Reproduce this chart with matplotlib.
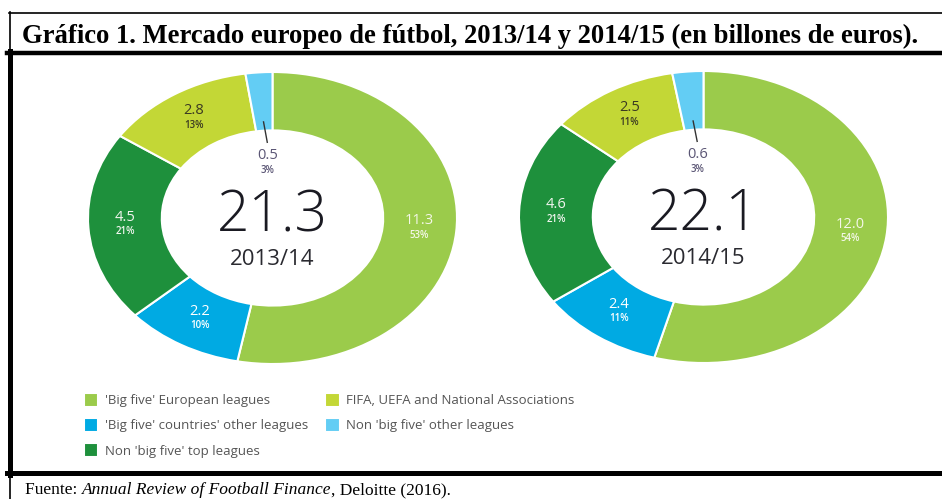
import numpy as np
import matplotlib
matplotlib.use("Agg")
import matplotlib.pyplot as plt
from matplotlib.lines import Line2D

plt.rcParams["font.family"] = ["Open Sans", "DejaVu Sans"]

# data
categories = [
    "'Big five' European leagues",
    "'Big five' countries' other leagues",
    "Non 'big five' top leagues",
    "FIFA, UEFA and National Associations",
    "Non 'big five' other leagues",
]
season_labels = ["2013/14", "2014/15"]
values_1314 = [11.3, 2.2, 4.5, 2.8, 0.5]
values_1415 = [12.0, 2.4, 4.6, 2.5, 0.6]
pct_1314 = ["53%", "10%", "21%", "13%", "3%"]
pct_1415 = ["54%", "11%", "21%", "11%", "3%"]
totals = ["21.3", "22.1"]

colors = ["#9bcb4b", "#00aae3", "#1e903c", "#c3d736", "#63cdf4"]
label_colors = ["#f4f7e8", "#ffffff", "#f0f5ee", "#3b3a22", "#5b5675"]

W, H = 942, 499
fig = plt.figure(figsize=(W / 100, H / 100), dpi=100)


def px_axes(x0, y0, x1, y1):
    # pixel box (top-left origin) -> figure axes
    return fig.add_axes([x0 / W, 1 - y1 / H, (x1 - x0) / W, (y1 - y0) / H])


def donut(ax, vals, pcts, total, season):
    wedges, _ = ax.pie(vals, colors=colors, startangle=90, counterclock=False,
                       radius=1, wedgeprops=dict(width=0.4, edgecolor="white", linewidth=1.5))
    ax.set_aspect("auto")
    ax.set_xlim(-1, 1)
    ax.set_ylim(-1, 1)
    ax.axis("off")
    for i, w in enumerate(wedges):
        ang = np.deg2rad((w.theta1 + w.theta2) / 2)
        if i == len(wedges) - 1:
            # small slice: label inside the hole with leader line
            ax.plot([0.66 * np.cos(ang), 0.52 * np.cos(ang) + 0.01],
                    [0.66 * np.sin(ang), 0.52 * np.sin(ang)], color="#333333", lw=1)
            r = 0.37
        else:
            r = 0.8
        x, y = r * np.cos(ang), r * np.sin(ang)
        ax.annotate(f"{vals[i]:.1f}", (x, y), xytext=(0, 0.5), textcoords="offset points",
                    ha="center", va="bottom", fontsize=10.5, color=label_colors[i])
        ax.annotate(pcts[i], (x, y), xytext=(0, -0.5), textcoords="offset points",
                    ha="center", va="top", fontsize=7, fontweight="semibold",
                    color=label_colors[i])
    ax.text(0, -0.095, total, ha="center", va="baseline", fontsize=41,
            fontweight="light", color="#1a1a22")
    ax.text(0, -0.32, season, ha="center", va="baseline", fontsize=16, color="#2a2a30")
    return wedges


ax1 = px_axes(88, 72, 457, 364)
wedges = donut(ax1, values_1314, pct_1314, totals[0], season_labels[0])
ax2 = px_axes(519, 71, 888, 363)
donut(ax2, values_1415, pct_1415, totals[1], season_labels[1])

fig.legend(wedges, categories, ncol=2, loc="upper left", bbox_to_anchor=(77 / W, 1 - 386 / H),
           frameon=False, borderpad=0, handlelength=1.1, handleheight=1.3, handletextpad=0.5,
           columnspacing=1.3, labelspacing=0.8, fontsize=9.5, labelcolor="#555555")

# frame lines
def hline(y, x0, x1, lw):
    fig.add_artist(Line2D([x0 / W, x1 / W], [1 - y / H, 1 - y / H], color="black", lw=lw))


def vline(x, y0, y1, lw):
    fig.add_artist(Line2D([x / W, x / W], [1 - y0 / H, 1 - y1 / H], color="black", lw=lw))


hline(12.5, 9, W, 1.2)
vline(9.5, 12, 52, 1.2)
hline(52.8, 7, W, 3.2)
vline(9.5, 51, 475, 3.6)
hline(472.5, 7, W, 3.6)
vline(10, 474, H, 1.2)

fig.text(22 / W, 1 - 36 / H, "Gráfico 1. Mercado europeo de fútbol, 2013/14 y 2014/15 (en billones de euros).",
         ha="left", va="center", fontsize=19.2, fontweight="bold", family="Liberation Serif")

# footer with italic title
fig.canvas.draw()
renderer = fig.canvas.get_renderer()
x = 25 / W
y = 1 - 494 / H
for piece, style in [("Fuente: ", "normal"), ("Annual Review of Football Finance", "italic"),
                     (", Deloitte (2016).", "normal")]:
    t = fig.text(x, y, piece, ha="left", va="baseline", fontsize=12.5,
                 family="Liberation Serif", style=style)
    bb = t.get_window_extent(renderer)
    x += bb.width / W

fig.savefig("out.png", dpi=100)
